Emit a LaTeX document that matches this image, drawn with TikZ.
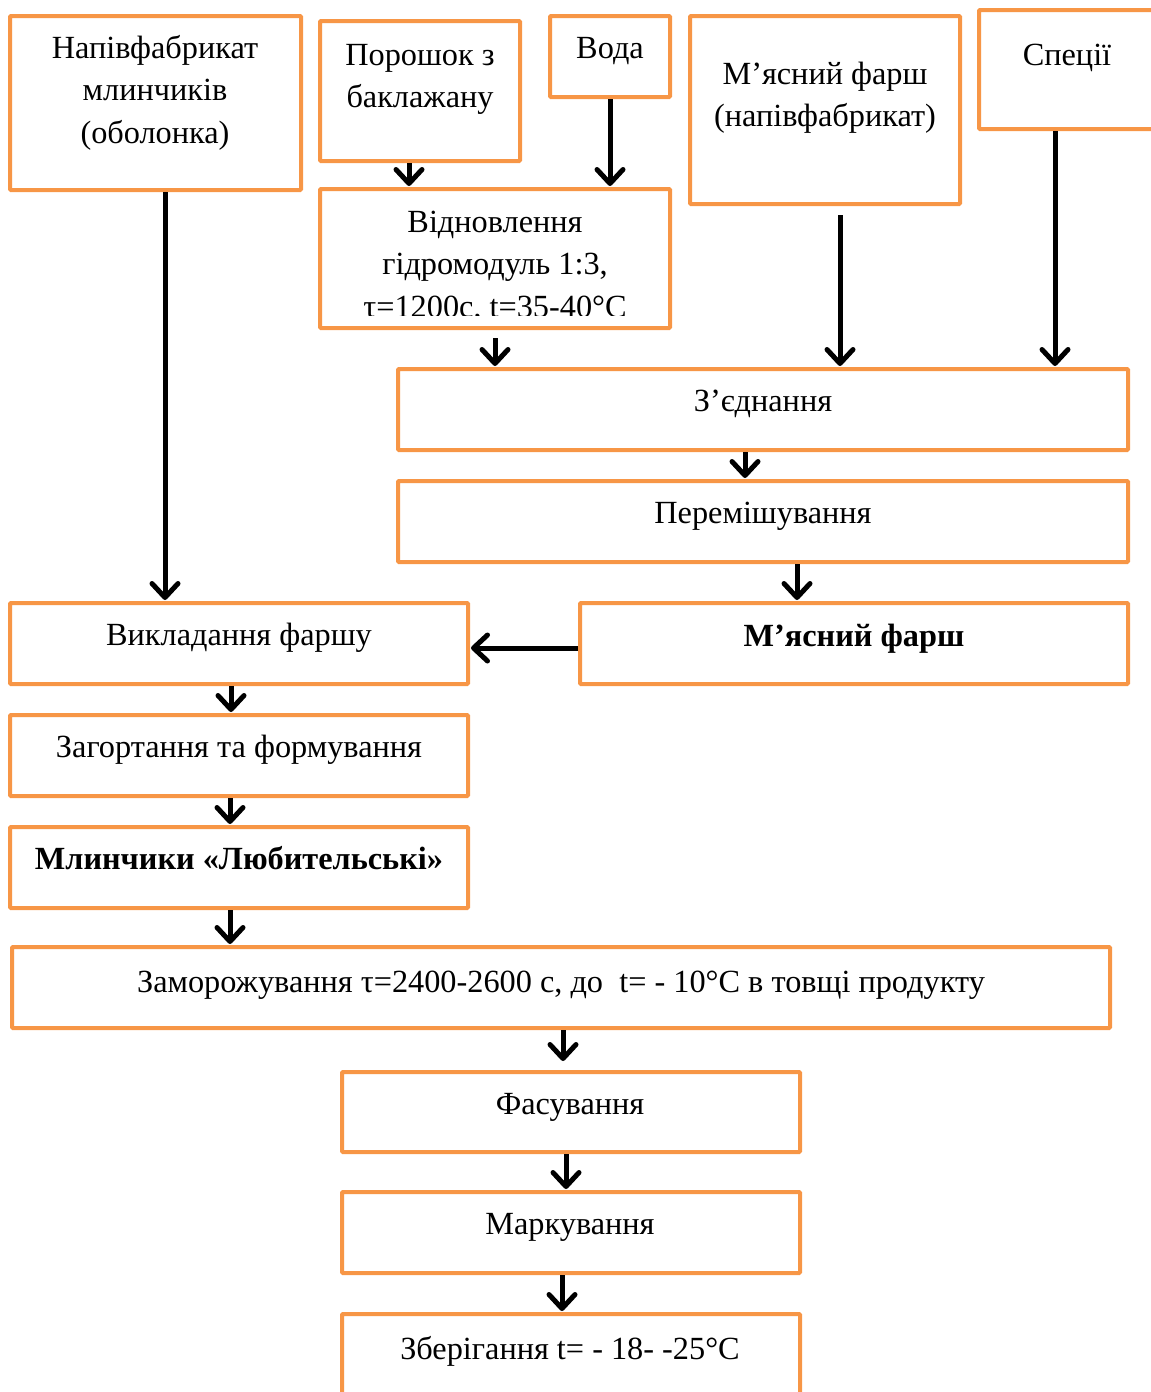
\documentclass[tikz,border=0pt]{standalone}
\usepackage{fontspec}
\setmainfont{Liberation Serif}
\usetikzlibrary{arrows.meta,calc}
\definecolor{boxorange}{HTML}{F79646}
\begin{document}
\begin{tikzpicture}[x=1pt,y=-1pt,
  box/.style={draw=boxorange, line width=4pt, fill=white, rectangle, inner sep=0pt, rounded corners=1pt},
  lbl/.style={anchor=base, inner sep=0pt, font=\fontsize{32.3}{42.5}\selectfont},
  arr/.style={line width=5pt, -{Straight Barb[length=14pt,width=26pt,round]}, shorten >=1pt}]
\useasboundingbox (0,0) rectangle (1151,1392);
\renewcommand{\arraystretch}{1}
% boxes
\node[box, minimum width=291pt, minimum height=174pt] (b1) at (155.5,103) {};
\node[box, minimum width=200pt, minimum height=140pt] (b2) at (420,91) {};
\node[box, minimum width=120pt, minimum height=81pt] (b3) at (610,56.5) {};
\node[box, minimum width=270pt, minimum height=188pt] (b4) at (825,110) {};
\node[box, minimum width=186pt, minimum height=119pt] (b5) at (1072,69.5) {};
\node[box, minimum width=350pt, minimum height=139pt] (b6) at (495,258.5) {};
\node[box, minimum width=730pt, minimum height=81pt] (b7) at (763,409.5) {};
\node[box, minimum width=730pt, minimum height=81pt] (b8) at (763,521.5) {};
\node[box, minimum width=458pt, minimum height=81pt] (b9) at (239,643.5) {};
\node[box, minimum width=548pt, minimum height=81pt] (b10) at (854,643.5) {};
\node[box, minimum width=458pt, minimum height=81pt] (b11) at (239,755.5) {};
\node[box, minimum width=458pt, minimum height=81pt] (b12) at (239,867.5) {};
\node[box, minimum width=1098pt, minimum height=81pt] (b13) at (561,987.5) {};
\node[box, minimum width=458pt, minimum height=80pt] (b14) at (571,1112) {};
\node[box, minimum width=458pt, minimum height=81pt] (b15) at (571,1232.5) {};
\node[box, minimum width=458pt, minimum height=86pt] (b16) at (571,1357) {};
% labels
\node[lbl] (t1) at (155,58) {\begin{tabular}[t]{@{}c@{}}Напівфабрикат\\млинчиків\\(оболонка)\end{tabular}};
\node[lbl] (t2) at (420,65) {\begin{tabular}[t]{@{}c@{}}Порошок з\\баклажану\end{tabular}};
\node[lbl] (t3) at (610,58) {Вода};
\node[lbl] (t4) at (825,84) {\begin{tabular}[t]{@{}c@{}}М’ясний фарш\\(напівфабрикат)\end{tabular}};
\node[lbl] (t5) at (1067,65) {Спеції};
\begin{scope}
\clip (322,191) rectangle (668,315);
\node[lbl] (t6) at (495,232) {\begin{tabular}[t]{@{}c@{}}Відновлення\\гідромодуль 1:3,\\τ=1200с, t=35-40°С\end{tabular}};
\end{scope}
\node[lbl] (t7) at (763,411) {З’єднання};
\node[lbl] (t8) at (763,523) {Перемішування};
\node[lbl] (t9) at (239,645) {Викладання фаршу};
\node[lbl] (t10) at (854,646) {\bfseries М’ясний фарш};
\node[lbl] (t11) at (239,757) {Загортання та формування};
\node[lbl] (t12) at (239,869) {\bfseries Млинчики «Любительські»};
\node[lbl] (t13) at (561,992) {Заморожування τ=2400-2600 с, до \ t= - 10°С в товщі продукту};
\node[lbl] (t14) at (570,1114) {Фасування};
\node[lbl] (t15) at (570,1234) {Маркування};
\node[lbl] (t16) at (570,1359) {Зберігання t= - 18- -25°С};
% arrows
\draw[arr] (165,0 |- b1.south) -- (165,0 |- b9.north);
\draw[arr] (409,0 |- b2.south) -- (409,0 |- b6.north);
\draw[arr] (610,0 |- b3.south) -- (610,0 |- b6.north);
\draw[arr] ($(495,0 |- b6.south)+(0,8)$) -- (495,0 |- b7.north);
\draw[arr] ($(840,0 |- b4.south)+(0,9)$) -- (840,0 |- b7.north);
\draw[arr] (1055,0 |- b5.south) -- (1055,0 |- b7.north);
\draw[arr] (745,0 |- b7.south) -- (745,0 |- b8.north);
\draw[arr] (797,0 |- b8.south) -- (797,0 |- b10.north);
\draw[arr] (b10.west |- 0,648) -- (b9.east |- 0,648);
\draw[arr] (231,0 |- b9.south) -- (231,0 |- b11.north);
\draw[arr] (230,0 |- b11.south) -- (230,0 |- b12.north);
\draw[arr] (230,0 |- b12.south) -- (230,0 |- b13.north);
\draw[arr] (563,0 |- b13.south) -- ($(563,0 |- b14.north)+(0,-8)$);
\draw[arr] (566,0 |- b14.south) -- (566,0 |- b15.north);
\draw[arr] (562,0 |- b15.south) -- (562,0 |- b16.north);
\end{tikzpicture}
\end{document}
